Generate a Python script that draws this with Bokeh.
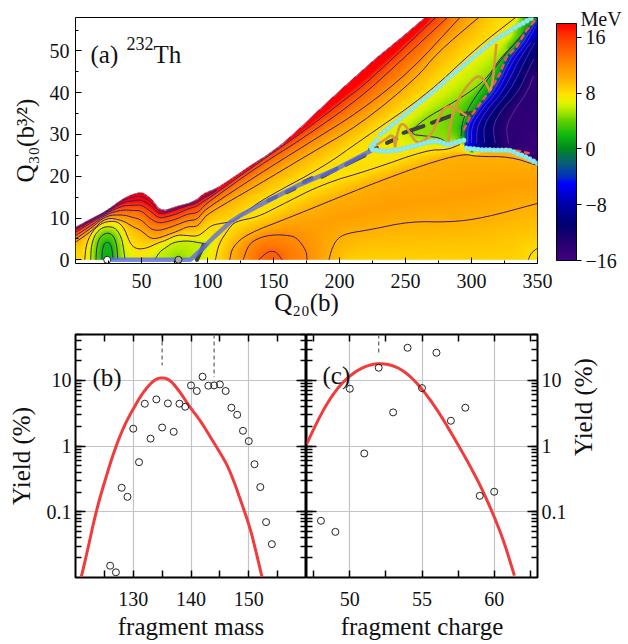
import numpy as np
from bokeh.plotting import figure
from bokeh.layouts import column, row
from bokeh.models import (Range1d, FixedTicker, LinearAxis, LogAxis, Label, ColorBar,
                          LinearColorMapper)
from bokeh.embed import file_html
from bokeh.resources import INLINE

FONT = "Liberation Serif"

# ---------- panel (a): values (Q20, Q30) ----------
upper_x = [0, 12, 23, 36, 43, 50, 57, 63, 68, 77, 85, 92, 97, 107, 120, 132, 145, 157, 170, 188, 208, 228, 246, 265, 351]
upper_y = [7.8, 9.8, 11.6, 14.6, 15.6, 16.2, 14.8, 12.2, 11.8, 12.8, 13.4, 14.4, 15.8, 17.1, 19.8, 22.4, 25, 27.8, 31.5, 36.9, 42.7, 48.3, 52.9, 58, 60]

left_x = [0, 12, 23, 36, 43, 50, 57, 63, 68, 77, 85, 92, 96, 100]
L20_y = [7.5, 9.6, 11.5, 14.3, 15.0, 15.4, 13.9, 11.6, 11.5, 12.4, 13.2, 14.0, 15.0, 15.6]
L18_y = [7.2, 9.3, 11.3, 13.8, 14.1, 14.4, 13.0, 11.0, 11.2, 12.1, 13.0, 13.6, 14.6, 15.2]
L16_y = [6.6, 8.9, 11.1, 13.0, 13.0, 13.2, 11.6, 10.0, 10.2, 11.0, 12.2, 12.8, 13.8, 14.5]
L14_y = [5.8, 8.2, 10.9, 12.0, 11.8, 11.8, 9.7, 8.8, 9.0, 9.8, 11.0, 11.2, 12.4, 13.7]
L12_y = [5.0, 7.6, 10.6, 10.8, 10.2, 9.6, 7.3, 7.0, 7.4, 8.4, 9.4, 9.6, 11.2, 12.4]
L10_y = [4.2, 6.8, 10.2, 9.4, 8.0, 7.0, 5.0, 5.2, 5.8, 6.8, 8.0, 7.9, 9.4, 11.0]

L16_rx = [137.5, 175.4, 208.2, 215.7, 240.8, 272.8]
L16_ry = [23, 31.3, 39.4, 41.1, 48.3, 58]
L14_rx = [137.5, 175.4, 215.7, 246, 281.7]
L14_ry = [22.2, 29.7, 38.8, 47.5, 58]
L12_rx = [137.5, 175.4, 215.7, 253.6, 291.2]
L12_ry = [20.2, 27.7, 35.6, 45.1, 58]
L10_rx = [137.5, 175.4, 215.7, 258.7, 273.8, 305.4]
L10_ry = [17.8, 25, 32.4, 43.6, 49.5, 58]

L8a_x = [7, 8, 12, 18, 24, 32, 37, 40, 43, 48, 55, 62, 68, 77, 85, 92, 97, 103, 112, 120, 130, 145, 187.6, 215.7, 266.1, 304, 333.4]
L8a_y = [0, 3.5, 6.5, 8.4, 9.2, 9.2, 7.5, 5, 3.2, 2.5, 2.9, 4, 4.6, 6.0, 5.8, 5.6, 6.6, 8.3, 8.8, 9.2, 11.8, 15, 22.2, 28.5, 39.5, 50.8, 58]
L8b_x = [106, 108.5, 116, 121, 137.5, 152.7, 187.6, 223.2, 266.2, 281.3, 291.3]
L8b_y = [0, 3.8, 7.4, 9.2, 10.2, 12.6, 18.2, 21.5, 26.3, 26.3, 27.6]
L10b_x = [116.9, 118.7, 130, 162.8, 223.2, 266.2, 293.9, 304, 329.2, 349.4]
L10b_y = [0, 3, 6.2, 10.2, 18, 23, 25.4, 24.7, 24.7, 22.6]
L10c_x = [192, 194, 198, 205, 223.2, 253.5, 283.8, 309, 350]
L10c_y = [0, 2.5, 5, 6.3, 7.2, 9.2, 9.0, 10, 13.5]
L8c_x = [343, 345, 350]
L8c_y = [0, 1.6, 2.8]
L12_loop_x = [127, 131.3, 140, 150.1, 160, 167.5, 174.9, 175.4]
L12_loop_y = [0, 3.8, 5.4, 6, 5.9, 5.4, 2.2, 0]
L14_loop_x = [138.8, 145.1, 149, 152.7, 156.5]
L14_loop_y = [0, 1.8, 2.1, 1.7, 0]
L2_x = [20, 20.3, 22, 24, 26, 27.8, 28.4]
L2_y = [0, 2.5, 4, 4.2, 4, 2.5, 0]
L4_x = [15.5, 16, 18, 22, 26, 29.5, 31.5, 32]
L4_y = [0, 3, 5.2, 6.3, 6.4, 5.4, 3, 0]
L6_x = [11.5, 12, 15, 20, 26, 31, 35, 36.5, 37.5]
L6_y = [0, 3.5, 6.2, 7.7, 8, 7.4, 5.2, 2.5, 0]
L6w_x = [60, 64, 68, 74, 85, 95, 101, 96, 93]
L6w_y = [0, 2, 2.8, 4.2, 4.6, 4, 3.8, 2, 0]
L6v_x = [281.3, 276.2, 266.1, 252.3, 263.6, 283.8, 301.4, 312.8, 321.9, 332, 347.8]
L6v_y = [28, 29.2, 29.6, 30.1, 33.6, 37.2, 40.7, 43.9, 48.3, 51.5, 56.3]
L4v_x = [292, 293, 297, 304, 311, 319, 329, 344]
L4v_y = [29.6, 33, 36, 39.5, 42.5, 46.5, 50.5, 56]
vtop_x = [235, 270, 300, 330]
vtop_y = [29.3, 38.5, 46.5, 53.8]
vtop_e = 6.6

# barrier between the valley and the blue fission region
barrier_x = [293.7, 293.7, 298.7, 306.3, 313.9, 321.4, 326.4, 334, 341.6, 349.1, 352]
barrier_y = [28.5, 31.7, 34.1, 37.3, 40.5, 44.5, 48.5, 50.9, 54.9, 57.7, 59]

blue_rows = [28, 32, 36, 40, 44, 48, 52, 56]
B4_x = [297, 297, 305, 316, 323, 329, 339, 347]
B6_x = [300, 300, 308, 319, 326, 332, 342, 349]
B8_x = [304, 304, 312, 323, 330, 336, 345]
B10_x = [310, 309, 317, 328, 335, 341, 348]
B12_x = [318, 316, 323, 335, 341, 347]
B14_x = [328, 326, 333, 342, 347]

# surface values between the contours (x, y, MeV)
spot_x = [24, 78, 148, 235, 230, 280, 320, 350, 225, 200, 347, 340, 300]
spot_y = [0, 0, 0, 15, 0, 0, 0, 0, 27.3, 24, 28, 45, 26]
spot_e = [0.8, 3.4, 15, 11, 8.7, 8.6, 8.5, 7.6, 7.2, 7.5, -15.5, -14, -3]
ridge_x = [178, 215, 250, 290, 330, 350]
ridge_y = [8, 11, 13.5, 15, 18, 18.5]
ridge_e = 10.9
floor_x = [205, 335]
floor_y = [0, 0]

path_x = [26.6, 87, 94.6, 104.7, 117.3, 124.8, 150, 170, 195.5, 224.4]
path_y = [0, 0, 2.2, 5.4, 9, 10.6, 14.8, 18, 21.4, 26.2]
dark_xs = [[92, 97], [146, 152], [160, 166], [173, 179], [186.7, 198], [205, 219], [223.2, 228.3],
           [236, 243], [248.5, 263.6], [270, 283.8], [292.6, 302.6]]
dark_ys = [[0, 3.5], [14.2, 15.1], [16.2, 17.1], [18.6, 19.5], [19.9, 21.8], [22.8, 25], [26.4, 26.8],
           [28, 29], [30.4, 32], [32.8, 34.4], [34.9, 35.2]]
wig1_x = [225.2, 233.2, 241.3, 242, 243, 245.8, 249.6, 254, 258.4, 264, 269.8, 274, 278.6, 283, 288.7, 296.2]
wig1_y = [27, 28.5, 30.3, 26.2, 29, 32.5, 32.4, 30, 27.9, 28.5, 30.1, 33, 36.1, 36.8, 36.1, 34.5]
wig2_x = [282.4, 283.6, 288, 293.7, 303.8, 308, 311.3, 315.1, 318.9]
wig2_y = [27.6, 32.5, 37, 40.5, 44.1, 43.6, 42.1, 39.6, 51.7]
cyan_up_x = [224, 226, 228, 231, 234, 237, 240, 243, 246, 249, 252, 255, 258, 261, 264, 267, 270, 273, 276, 279, 282, 285, 288, 291, 294, 297, 300, 303, 306, 309, 312, 315, 318, 321, 324, 327, 330, 333, 336, 339, 342, 345]
cyan_up_y = [27, 27.8, 28.6, 30, 30.8, 31.5, 32.3, 33, 33.8, 34.6, 35.3, 36.1, 36.9, 37.7, 38.4, 39.2, 40, 40.8, 41.6, 42.4, 43.3, 44.1, 44.9, 45.7, 46.5, 47.3, 48.1, 48.9, 49.7, 50.4, 51.2, 52, 52.7, 53.3, 53.9, 54.4, 55, 55.6, 56.2, 56.7, 57.2, 57.8]
cyan_lo_x = [225, 228, 231, 234, 237, 240, 243, 246, 249, 252, 255, 258, 261, 264, 267, 270, 273, 276, 279, 282, 285, 288, 291, 294, 296, 299, 302, 305, 308, 311, 314, 317, 320, 323, 326, 329, 332, 335, 338, 341, 344, 347, 350]
cyan_lo_y = [26.4, 26.2, 26.1, 26, 26, 26.1, 26.2, 26.4, 26.7, 26.9, 27.1, 27.3, 27.6, 27.9, 28.1, 28.3, 28.4, 28.2, 27.9, 27.6, 27.8, 28.1, 28.4, 28.6, 26.7, 26.6, 26.5, 26.4, 26.3, 26.3, 26.3, 26.2, 26.2, 26.2, 26.2, 26.1, 25.8, 25.3, 25, 24.6, 24.1, 23.6, 23.1]
blue_lo_x = [295, 311.3, 329, 336.5, 349.1, 352]
blue_lo_y = [26.6, 26.3, 26.2, 25.2, 23.1, 22.8]
red_dash_x = [294, 298.7, 306.3, 313.9, 321.4, 326.4, 334, 341.6, 349]
red_dash_y = [31, 34.1, 37.3, 40.5, 44.5, 48.5, 50.9, 54.9, 57.7]
red_dash2_x = [326.4, 344]
red_dash2_y = [26.6, 25.5]
start_x = [24, 78]
start_y = [0, 0]

# colour scale
cmap_v = [-16, -13, -11, -8, -5, -4, -2, 0, 2, 4, 5, 6, 7, 8, 10, 12, 16, 18]
cmap_c = ["#45007f", "#200070", "#000070", "#0000a8", "#0000ff", "#0030c0", "#0a5f7a", "#008820", "#10b810",
          "#60d000", "#90e000", "#c8f000", "#f0f000", "#ffe000", "#ffb000", "#ff8c00", "#ff3c00", "#ff0000"]

# ---------- panel (b) / (c) ----------
mass = [126, 127, 128, 129, 130, 131, 132, 133, 134, 135, 136, 137, 138, 139, 140, 141, 142, 143, 144, 145, 146, 147, 148, 149, 150, 151, 152, 153, 154]
mass_yield = [0.0151, 0.012, 0.232, 0.169, 1.84, 0.57, 4.42, 1.3, 5.14, 1.92, 4.47, 1.65, 4.42, 3.97, 8.4, 6.9, 11.4, 8.3, 8.4, 8.7, 6.9, 3.84, 3.0, 1.71, 1.19, 0.53, 0.238, 0.0697, 0.0322]
mass_calc_x = [121.0, 122.0, 123.6, 125.2, 126.8, 128.5, 130, 131.7, 133.5, 134.9, 136.4, 138.1, 139.8, 141.6, 143.9, 146.2, 147.5, 148.5, 150.2, 151.3, 152.3]
mass_calc_y = [0.0102, 0.024, 0.105, 0.32, 0.9, 2.1, 3.7, 6.64, 10, 11.2, 10.2, 6.64, 3.93, 2.46, 1.15, 0.538, 0.28, 0.158, 0.0583, 0.024, 0.0101]
charge = [48, 49, 50, 51, 52, 53, 54, 55, 56, 57, 58, 59, 60]
charge_yield = [0.0729, 0.0495, 7.47, 0.773, 15.6, 3.26, 31.4, 7.64, 26.4, 2.43, 3.84, 0.175, 0.202]
charge_calc_x = [47, 48, 49, 50, 51, 52, 53.05, 54, 55, 56.05, 57, 58, 59.05, 60, 60.7, 61.4]
charge_calc_y = [1.06, 3.1, 7.05, 11.9, 16.3, 18.4, 16.9, 12.7, 7.47, 3.6, 1.62, 0.676, 0.251, 0.085, 0.034, 0.0107]

# ---------- surface: solved between the read contours ----------
contours = [
    (20, left_x + [107], L20_y + [16.9]),
    (18, left_x + [107], L18_y + [16.6]),
    (16, left_x + L16_rx, L16_y + L16_ry),
    (14, left_x + L14_rx, L14_y + L14_ry),
    (12, left_x + L12_rx, L12_y + L12_ry),
    (10, left_x + L10_rx, L10_y + L10_ry),
    (8, L8a_x, L8a_y), (8, L8b_x, L8b_y), (10, L10b_x, L10b_y), (10, L10c_x, L10c_y), (8, L8c_x, L8c_y),
    (12, L12_loop_x, L12_loop_y), (14, L14_loop_x, L14_loop_y),
    (2, L2_x, L2_y), (4, L4_x, L4_y), (6, L6_x, L6_y), (6, L6w_x, L6w_y),
    (5, L6v_x, L6v_y), (3, L4v_x, L4v_y),
]
blue_contours = [(-4, B4_x), (-6, B6_x), (-8, B8_x), (-10, B10_x), (-12, B12_x), (-14, B14_x)]


def chaikin(xs, ys, n=2):
    x, y = np.asarray(xs, float), np.asarray(ys, float)
    for _ in range(n):
        qx, qy = .75 * x[:-1] + .25 * x[1:], .75 * y[:-1] + .25 * y[1:]
        rx, ry = .25 * x[:-1] + .75 * x[1:], .25 * y[:-1] + .75 * y[1:]
        nx = np.empty(2 * len(qx)); ny = np.empty(2 * len(qx))
        nx[::2], nx[1::2], ny[::2], ny[1::2] = qx, rx, qy, ry
        x = np.r_[xs[0], nx, xs[-1]]; y = np.r_[ys[0], ny, ys[-1]]
    return x, y


XMAX, YMAX = 350.0, 58.0


def labels(xc, yc):
    X, Y = np.meshgrid(xc, yc)
    L = (Y <= np.interp(X, upper_x, upper_y)).astype(int)
    bx = np.interp(Y, barrier_y, barrier_x)
    lo = np.interp(X, blue_lo_x, blue_lo_y)
    L[(X >= bx) & (Y >= lo) & (X >= 294.5) & (L > 0)] = 2
    return L


def solve(cell, prev=None):
    nx, ny = int(462 / cell), int(242 / cell)
    xc = (np.arange(nx) + .5) * XMAX / nx
    yc = (np.arange(ny) + .5) * YMAX / ny
    L = labels(xc, yc)
    fix = np.full((ny, nx), np.nan)

    def stamp(xs, ys, val, lab):
        sx, sy = np.asarray(xs, float), np.asarray(ys, float)
        t = np.arange(len(sx))
        k = np.linspace(0, len(sx) - 1, 1 + (len(sx) - 1) * 120)
        px, py = np.interp(k, t, sx), np.interp(k, t, sy)
        keep = (py < YMAX - .01)
        px, py = px[keep], py[keep]
        i = np.clip((px / XMAX * nx).astype(int), 0, nx - 1)
        j = np.clip((py / YMAX * ny).astype(int), 0, ny - 1)
        ok = L[j, i] == lab
        fix[j[ok], i[ok]] = val

    stamp(upper_x[:-1], np.asarray(upper_y[:-1]) - .05, 22, 1)
    stamp(ridge_x, ridge_y, ridge_e, 1)
    stamp(floor_x, floor_y, 8.6, 1)
    stamp(vtop_x, vtop_y, vtop_e, 1)
    for lev, xs, ys in contours:
        a, b = chaikin(xs, ys)
        stamp(a, b, lev, 1)
    stamp(np.asarray(barrier_x) - 1, barrier_y, 1.0, 1)
    stamp(np.asarray(barrier_x) + 1, barrier_y, -3, 2)
    for lev, xs in blue_contours:
        stamp(xs, blue_rows[:len(xs)], lev, 2)
    for a, b, e in zip(spot_x, spot_y, spot_e):
        i = min(int(a / XMAX * nx), nx - 1); j = min(int(b / YMAX * ny), ny - 1)
        for lab in (1, 2):
            if L[j, i] == lab:
                fix[j, i] = e

    if prev is None:
        E = np.full((ny, nx), 8.0)
    else:
        E = np.repeat(np.repeat(prev, 2, axis=0), 2, axis=1)
        E = np.pad(E, ((0, max(0, ny - E.shape[0])), (0, max(0, nx - E.shape[1]))), mode="edge")[:ny, :nx]
    E[L == 2] = np.where(E[L == 2] > 0, -8, E[L == 2])
    wh = (L[:, 1:] == L[:, :-1]) & (L[:, 1:] > 0)
    wv = (L[1:, :] == L[:-1, :]) & (L[1:, :] > 0)
    N = np.zeros((ny, nx))
    N[:, 1:] += wh; N[:, :-1] += wh; N[1:, :] += wv; N[:-1, :] += wv
    N[N == 0] = 1
    free = np.isnan(fix) & (L > 0)
    E[~np.isnan(fix)] = fix[~np.isnan(fix)]
    jj, ii = np.indices((ny, nx))
    masks = [free & ((ii + jj) % 2 == c) for c in (0, 1)]
    for _ in range(320):
        for m in masks:
            S = np.zeros((ny, nx))
            S[:, 1:] += wh * E[:, :-1]; S[:, :-1] += wh * E[:, 1:]
            S[1:, :] += wv * E[:-1, :]; S[:-1, :] += wv * E[1:, :]
            E[m] += 1.75 * (S[m] / N[m] - E[m])
    return E, L, xc, yc


E = None
for c in (8, 4, 2, 1):
    E, Lab, xc, yc = solve(c, E)


def hexrgb(h):
    return [int(h[i:i + 2], 16) for i in (1, 3, 5)]


rgb_stops = np.array([hexrgb(c) for c in cmap_c], float)
rgba = np.zeros(E.shape + (4,), dtype=np.uint8)
for k in range(3):
    rgba[..., k] = np.interp(E, cmap_v, rgb_stops[:, k]).astype(np.uint8)
rgba[..., 3] = np.where(Lab > 0, 255, 0)
img = rgba.view(np.uint32).reshape(E.shape)

pal_v = np.linspace(-16, 18, 256)
palette = ["#%02x%02x%02x" % tuple(int(np.interp(v, cmap_v, rgb_stops[:, k])) for k in range(3)) for v in pal_v]

# ---------- figures ----------
pa = figure(frame_width=462, frame_height=246, width=628, height=323,
            min_border_left=75, min_border_right=91, min_border_top=17, min_border_bottom=60,
            x_range=Range1d(0, 350), y_range=Range1d(-0.885, 58), toolbar_location=None, output_backend="svg",
            tools="")
pa.grid.visible = False
pa.outline_line_color = "black"
pa.outline_line_width = 1


def style_axis(ax, size="20px", standoff=6, major=6, minor=3, lw=1, labels_on=True):
    ax.major_label_text_font = FONT
    ax.major_label_text_font_size = size if labels_on else "1px"
    ax.major_label_text_color = "#111111"
    ax.major_label_standoff = standoff if labels_on else 0
    ax.major_tick_in, ax.major_tick_out = major, 0
    ax.minor_tick_in, ax.minor_tick_out = minor, 0
    ax.major_tick_line_width = lw
    ax.minor_tick_line_width = lw
    ax.major_tick_line_color = "black"
    ax.minor_tick_line_color = "black"
    ax.axis_line_color = None
    ax.axis_label_text_font = FONT
    ax.axis_label_text_font_style = "normal"
    ax.axis_label_text_font_size = "25px"
    ax.axis_label_text_color = "#111111"
    if not labels_on:
        ticks = ax.ticker.ticks
        ax.major_label_overrides = {t: "" for t in ticks}


pa.xaxis.ticker = FixedTicker(ticks=list(range(50, 351, 50)), minor_ticks=list(range(25, 351, 50)))
pa.yaxis.ticker = FixedTicker(ticks=list(range(0, 51, 10)), minor_ticks=list(range(5, 56, 10)))
style_axis(pa.xaxis[0], standoff=10)
style_axis(pa.yaxis[0], standoff=6)
pa.xaxis[0].axis_label = "Q\u2082\u2080(b)"
pa.xaxis[0].axis_label_standoff = -2
pa.yaxis[0].axis_label = "Q\u2083\u2080(b\u00b3\u2044\u00b2)"
pa.yaxis[0].axis_label_standoff = 8

pa.image_rgba(image=[img], x=0, y=0, dw=XMAX, dh=YMAX)

LINE = "#3c1a78"
for lev, xs, ys in contours:
    a, b = chaikin(xs, ys)
    pa.line(a, b, line_color=LINE, line_width=1)
ua, ub = chaikin(upper_x[:-1], upper_y[:-1])
pa.line(ua, ub, line_color=LINE, line_width=1, line_alpha=.6)
for lev, xs in blue_contours:
    a, b = chaikin(xs, blue_rows[:len(xs)])
    pa.line(a, b, line_color="#8040b0", line_width=1, line_alpha=.65)

pa.multi_line(dark_xs, dark_ys, line_color="#404040", line_width=4, line_cap="round")
pa.line(path_x, path_y, line_color="#5a6ee6", line_width=4.5, line_alpha=.8)
pa.line(red_dash_x, red_dash_y, line_color="#e85a50", line_width=2.5, line_dash="6 3")
pa.line(red_dash2_x, red_dash2_y, line_color="#e85a50", line_width=2.5, line_dash="6 3")
for xs, ys in ((wig1_x, wig1_y), (wig2_x, wig2_y)):
    a, b = chaikin(xs, ys)
    pa.line(a, b, line_color="#d9963a", line_width=2.5)
pa.scatter(cyan_up_x, cyan_up_y, size=5, fill_color="#80f0f4", line_color="#a8c8c8", line_width=.5)
pa.scatter(cyan_lo_x, cyan_lo_y, size=5, fill_color="#80f0f4", line_color="#a8c8c8", line_width=.5)
pa.scatter(start_x[:1], start_y[:1], size=7, fill_color="white", line_color="#222222", line_width=1)
pa.scatter(start_x[1:], start_y[1:], size=7, fill_color="#aaaaaa", line_color="#222222", line_width=1)

# the unit is the one label of an unseen small bar above the colour bar
unit_cb = ColorBar(color_mapper=LinearColorMapper(palette=["#ffffff"], low=0, high=2),
                   ticker=FixedTicker(ticks=[1]), width=20, height=8, location=(481, 241), padding=0, margin=0,
                   bar_line_color=None, major_tick_line_color=None, minor_tick_line_color=None, scale_alpha=0,
                   major_label_text_font=FONT, major_label_text_font_size="20px", major_label_text_color="#111111",
                   label_standoff=4, major_label_overrides={1: "MeV"}, background_fill_color=None,
                   border_line_color=None)
pa.add_layout(unit_cb, "center")

mapper = LinearColorMapper(palette=palette, low=-16, high=18)
cb = ColorBar(color_mapper=mapper, ticker=FixedTicker(ticks=[-16, -8, 0, 8, 16]), width=20, height=237,
              location=(481, 3), padding=0, margin=0, bar_line_color="black", bar_line_width=1,
              major_tick_in=0, major_tick_out=5, major_tick_line_color="black", major_tick_line_width=1,
              minor_tick_line_color=None, major_label_text_font=FONT, major_label_text_font_size="20px",
              major_label_text_color="#111111", label_standoff=4,
              major_label_overrides={-16: "\u221216", -8: "\u22128"}, background_fill_color=None,
              border_line_color=None)
pa.add_layout(cb, "center")


def ptext(fig, fx, fy, px, py, text, size, angle=0, align="left", color="#111111"):
    """px, py are window pixels; fx, fy convert them to the figure's data units."""
    fig.add_layout(Label(x=float(fx(px)), y=float(fy(py)), text=text, text_font=FONT, text_font_size=f"{size}px", angle=angle,
                         text_align=align, text_baseline="alphabetic", text_color=color))


ax_ = lambda p: (p - 75) * 350 / 462
ay_ = lambda p: 58 - (p - 17) * (58 + .885) / 246
for t in [(90, 54, "(a)", 25), (126, 43, "232", 18), (153, 54, "Th", 25)]:
    ptext(pa, ax_, ay_, *t)


def lower_panel(xr, left, right, xticks, xminor):
    w = left + 231 + right
    p = figure(frame_width=231, frame_height=243, width=w, height=325,
               min_border_left=left, min_border_right=right, min_border_top=11, min_border_bottom=71,
               x_range=Range1d(*xr), y_range=Range1d(0.01, 50), y_axis_type="log", toolbar_location=None,
               output_backend="svg", tools="")
    p.outline_line_color = "black"
    p.outline_line_width = 2
    p.xgrid.ticker = FixedTicker(ticks=xticks)
    p.ygrid.ticker = FixedTicker(ticks=[0.1, 1, 10])
    p.grid.grid_line_color = "#c4c4c4"
    p.grid.grid_line_width = 1.2
    y_minor = [m * 10.0 ** d for d in (-2, -1, 0, 1) for m in range(1, 10)]
    y_minor = [v for v in y_minor if 0.01 < v <= 50]
    xt = FixedTicker(ticks=xticks, minor_ticks=xminor)
    yt = FixedTicker(ticks=[0.1, 1, 10], minor_ticks=y_minor)
    p.xaxis.ticker = xt
    p.yaxis.ticker = yt
    p.yaxis.major_label_overrides = {0.1: "0.1", 1: "1", 10: "10"}
    style_axis(p.xaxis[0], standoff=14, major=7, minor=7, lw=1.5)
    p.xaxis[0].axis_label_standoff = 4
    top = LinearAxis(ticker=xt)
    style_axis(top, major=7, minor=7, lw=1.5, labels_on=False)
    p.add_layout(top, "above")
    return p, yt


pb, ytb = lower_panel((120, 160), 75, 0, [130, 140, 150], [125, 135, 145, 155])
pc, ytc = lower_panel((47, 63), 0, 91, [50, 55, 60], [47.5, 52.5, 57.5, 62.5])

pb.below[0].axis_label = "fragment mass"
pc.below[0].axis_label = "fragment charge"

style_axis(pb.yaxis[0], standoff=4, major=10, minor=6, lw=1.5)
pb.yaxis[0].axis_label = "Yield (%)"
pb.yaxis[0].axis_label_standoff = 9
rb = LogAxis(ticker=ytb)
style_axis(rb, major=10, minor=6, lw=1.5, labels_on=False)
pb.add_layout(rb, "right")

style_axis(pc.yaxis[0], major=10, minor=6, lw=1.5, labels_on=False)
rc = LogAxis(ticker=ytc, major_label_overrides={0.1: "0.1", 1: "1", 10: "10"})
style_axis(rc, standoff=4, major=10, minor=6, lw=1.5)
rc.axis_label = "Yield (%)"
rc.axis_label_standoff = 14
rc.axis_label_orientation = np.pi / 2
pc.add_layout(rc, "right")

DASH = "#6a6a6a"
for p, xs, ends, ox, oy, cx, cy in ((pb, [135, 144], [17, 11.2], mass, mass_yield, mass_calc_x, mass_calc_y),
                                    (pc, [52], [25.5], charge, charge_yield, charge_calc_x, charge_calc_y)):
    for a, e in zip(xs, ends):
        p.line([a, a], [50, e], line_color=DASH, line_width=1.3, line_dash="4 3")
    a, b = chaikin(cx, np.log10(cy))
    p.line(a, 10 ** b, line_color="#f03c3c", line_width=3)
    p.scatter(ox, oy, size=7, fill_color=None, line_color="#222222", line_width=1)

bx_ = lambda q: 120 + (q - 75) * 40 / 231
cx_ = lambda q: 47 + (q - 306) * 16 / 231
ly_ = lambda q: 10 ** (np.log10(50) - (q - 334) * (np.log10(50) + 2) / 243)

ptext(pb, bx_, ly_, 92, 377, "(b)", 25)
ptext(pc, cx_, ly_, 322, 375, "(c)", 25)

layout = column(pa, row(pb, pc, spacing=0), spacing=0)
html = file_html(layout, INLINE)
html = html.replace("<head>", "<head><style>html,body{overflow:hidden}</style>", 1)
open("out.html", "w").write(html)
